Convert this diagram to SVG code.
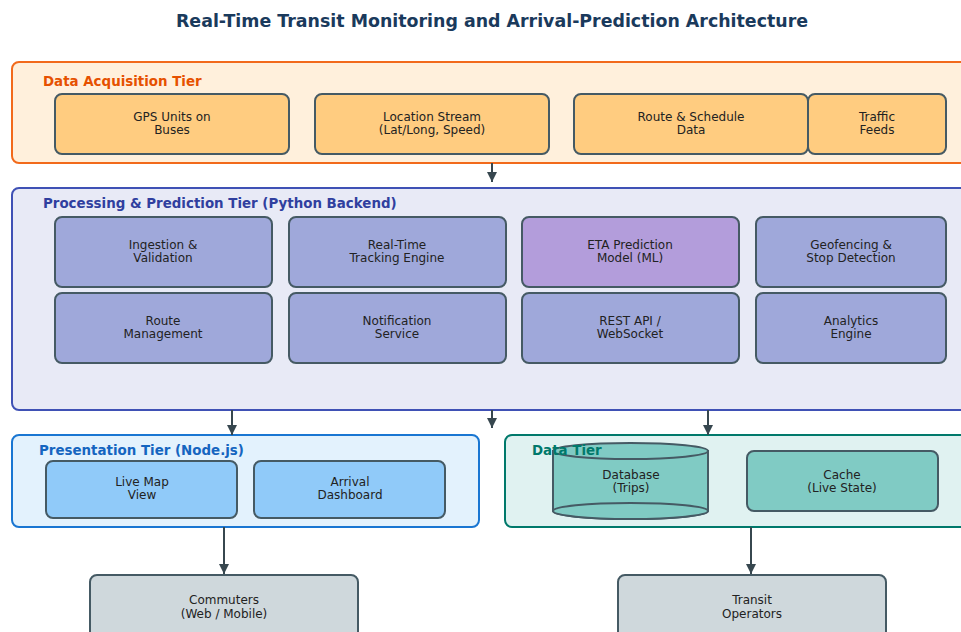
<svg xmlns="http://www.w3.org/2000/svg" width="961" height="632" viewBox="0 0 961 632">
<defs>
<marker id="ah" viewBox="0 0 10 10" refX="10" refY="5" markerWidth="10" markerHeight="10" markerUnits="userSpaceOnUse" orient="auto"><path d="M0,0 L10,5 L0,10 z" fill="#37474f"/></marker>
<style>
.title{font-family:"DejaVu Sans",sans-serif;font-weight:bold;font-size:17.4px;fill:#1a3a5c;text-anchor:middle}
.tl{font-family:"DejaVu Sans",sans-serif;font-weight:bold;font-size:13.4px}
.nt{font-family:"DejaVu Sans",sans-serif;font-size:12px;fill:#222;text-anchor:middle}
.n{stroke:#455a64;stroke-width:2}
.acq{fill:#ffcc80}.proc{fill:#9fa8da}.ml{fill:#b39ddb}.pres{fill:#90caf9}.data{fill:#80cbc4}.usr{fill:#cfd8dc}
.c{stroke:#37474f;stroke-width:2;fill:none;marker-end:url(#ah)}
</style>
</defs>
<rect width="961" height="632" fill="#ffffff"/>
<text class="title" x="492" y="27">Real-Time Transit Monitoring and Arrival-Prediction Architecture</text>

<g id="tier-acquisition">
<rect x="12" y="62" width="960" height="101" rx="7" fill="#fff0dc" stroke="#f26a1b" stroke-width="2"/>
<text class="tl" x="43" y="86" fill="#e65100">Data Acquisition Tier</text>
</g>
<g id="gps"><rect class="n acq" x="55" y="94" width="234" height="60" rx="7"/><text class="nt" x="172" y="121">GPS Units on</text><text class="nt" x="172" y="134">Buses</text></g>
<g id="location"><rect class="n acq" x="315" y="94" width="234" height="60" rx="7"/><text class="nt" x="432" y="121">Location Stream</text><text class="nt" x="432" y="134">(Lat/Long, Speed)</text></g>
<g id="route-schedule"><rect class="n acq" x="574" y="94" width="234" height="60" rx="7"/><text class="nt" x="691" y="121">Route &amp; Schedule</text><text class="nt" x="691" y="134">Data</text></g>
<g id="traffic"><rect class="n acq" x="808" y="94" width="138" height="60" rx="7"/><text class="nt" x="877" y="121">Traffic</text><text class="nt" x="877" y="134">Feeds</text></g>

<g id="tier-processing">
<rect x="12" y="188" width="960" height="222" rx="7" fill="#e8eaf6" stroke="#3f51b5" stroke-width="2"/>
<text class="tl" x="43" y="208" fill="#303f9f">Processing &amp; Prediction Tier (Python Backend)</text>
</g>
<g id="ingestion"><rect class="n proc" x="55" y="217" width="217" height="70" rx="7"/><text class="nt" x="163" y="249">Ingestion &amp;</text><text class="nt" x="163" y="262">Validation</text></g>
<g id="tracking"><rect class="n proc" x="289" y="217" width="217" height="70" rx="7"/><text class="nt" x="397" y="249">Real-Time</text><text class="nt" x="397" y="262">Tracking Engine</text></g>
<g id="eta"><rect class="n ml" x="522" y="217" width="217" height="70" rx="7"/><text class="nt" x="630" y="249">ETA Prediction</text><text class="nt" x="630" y="262">Model (ML)</text></g>
<g id="geofencing"><rect class="n proc" x="756" y="217" width="190" height="70" rx="7"/><text class="nt" x="851" y="249">Geofencing &amp;</text><text class="nt" x="851" y="262">Stop Detection</text></g>
<g id="route-mgmt"><rect class="n proc" x="55" y="293" width="217" height="70" rx="7"/><text class="nt" x="163" y="325">Route</text><text class="nt" x="163" y="338">Management</text></g>
<g id="notification"><rect class="n proc" x="289" y="293" width="217" height="70" rx="7"/><text class="nt" x="397" y="325">Notification</text><text class="nt" x="397" y="338">Service</text></g>
<g id="rest-api"><rect class="n proc" x="522" y="293" width="217" height="70" rx="7"/><text class="nt" x="630" y="325">REST API /</text><text class="nt" x="630" y="338">WebSocket</text></g>
<g id="analytics"><rect class="n proc" x="756" y="293" width="190" height="70" rx="7"/><text class="nt" x="851" y="325">Analytics</text><text class="nt" x="851" y="338">Engine</text></g>

<g id="tier-presentation">
<rect x="12" y="435" width="467" height="92" rx="7" fill="#e3f2fd" stroke="#1976d2" stroke-width="2"/>
<text class="tl" x="39" y="455" fill="#1565c0">Presentation Tier (Node.js)</text>
</g>
<g id="live-map"><rect class="n pres" x="46" y="461" width="191" height="57" rx="7"/><text class="nt" x="142" y="486">Live Map</text><text class="nt" x="142" y="499">View</text></g>
<g id="arrival-dashboard"><rect class="n pres" x="254" y="461" width="191" height="57" rx="7"/><text class="nt" x="350" y="486">Arrival</text><text class="nt" x="350" y="499">Dashboard</text></g>

<g id="tier-data">
<rect x="505" y="435" width="467" height="92" rx="7" fill="#e0f2f1" stroke="#00796b" stroke-width="2"/>
</g>
<g id="database">
<path class="n data" d="M553,451 L553,511 A77.5,8 0 0 0 708,511 L708,451 z"/>
<ellipse class="n data" cx="630.5" cy="511" rx="77.5" ry="8"/>
<ellipse class="n data" cx="630.5" cy="451" rx="77.5" ry="8"/>
<text class="nt" x="631" y="479">Database</text><text class="nt" x="631" y="492">(Trips)</text>
</g>
<text id="tier-data-label" class="tl" x="532" y="455" fill="#00796b">Data Tier</text>
<g id="cache"><rect class="n data" x="747" y="451" width="191" height="60" rx="7"/><text class="nt" x="842" y="479">Cache</text><text class="nt" x="842" y="492">(Live State)</text></g>

<g id="commuters"><rect class="n usr" x="90" y="575" width="268" height="80" rx="7"/><text class="nt" x="224" y="604">Commuters</text><text class="nt" x="224" y="618">(Web / Mobile)</text></g>
<g id="operators"><rect class="n usr" x="618" y="575" width="268" height="80" rx="7"/><text class="nt" x="752" y="604">Transit</text><text class="nt" x="752" y="618">Operators</text></g>

<g id="connectors">
<line class="c" x1="492" y1="163" x2="492" y2="182"/>
<line class="c" x1="232" y1="410" x2="232" y2="435"/>
<line class="c" x1="492" y1="410" x2="492" y2="428"/>
<line class="c" x1="708" y1="410" x2="708" y2="435"/>
<line class="c" x1="224" y1="527" x2="224" y2="574"/>
<line class="c" x1="751" y1="527" x2="751" y2="574"/>
</g>
</svg>
